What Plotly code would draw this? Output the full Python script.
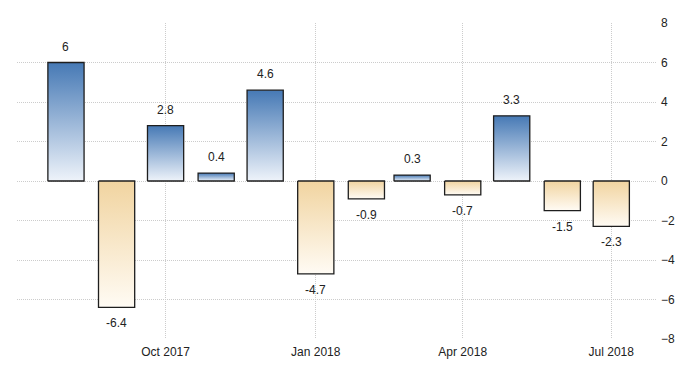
import pandas as pd
import plotly.graph_objects as go

months = ["2017-08-01", "2017-09-01", "2017-10-01", "2017-11-01", "2017-12-01", "2018-01-01",
          "2018-02-01", "2018-03-01", "2018-04-01", "2018-05-01", "2018-06-01", "2018-07-01"]
values = [6, -6.4, 2.8, 0.4, 4.6, -4.7, -0.9, 0.3, -0.7, 3.3, -1.5, -2.3]
labels = ["6", "-6.4", "2.8", "0.4", "4.6", "-4.7", "-0.9", "0.3", "-0.7", "3.3", "-1.5", "-2.3"]
tick_dates = ["2017-10-01", "2018-01-01", "2018-04-01", "2018-07-01"]
tick_text = ["Oct 2017", "Jan 2018", "Apr 2018", "Jul 2018"]
y_ticks = [-8, -6, -4, -2, 0, 2, 4, 6, 8]

FONT = "Liberation Sans Narrow, Arial Narrow, Liberation Sans, Arial, sans-serif"
half = pd.Timedelta(hours=266)  # half bar width

fig = go.Figure()
for m, v in zip(months, values):
    d = pd.Timestamp(m)
    xs = [d - half, d - half, d + half, d + half, d - half]
    ys = [0, v, v, 0, 0]
    if v >= 0:
        grad = dict(type="vertical", start=0, stop=v,
                    colorscale=[[0, "#eef3fa"], [1, "#4679b5"]])
    else:
        grad = dict(type="vertical", start=v, stop=0,
                    colorscale=[[0, "#fffbf4"], [1, "#f1d4a0"]])
    fig.add_trace(go.Scatter(x=xs, y=ys, mode="lines", fill="toself",
                             fillgradient=grad,
                             line=dict(color="#1e1e1e", width=1.3),
                             hoverinfo="skip", showlegend=False))

for m, v, t in zip(months, values, labels):
    fig.add_annotation(x=m, y=v, text=t, showarrow=False,
                       yshift=16 if v >= 0 else -16,
                       font=dict(family=FONT, size=12, color="#222"))

fig.update_layout(
    width=684, height=359,
    margin=dict(l=9, r=35, t=15, b=28),
    paper_bgcolor="white", plot_bgcolor="white",
    showlegend=False,
    font=dict(family=FONT, size=12, color="#222"),
)
fig.update_xaxes(
    type="date", range=["2017-07-02", "2018-07-29"],
    tickvals=tick_dates, ticktext=tick_text,
    showgrid=True, gridcolor="#cccccc", griddash="1px,1px", gridwidth=1,
    showline=False, zeroline=False, ticks="", ticklabelstandoff=4,
    automargin=False,
)
fig.update_yaxes(
    range=[-8, 8], side="right", tickvals=y_ticks,
    showgrid=True, gridcolor="#cccccc", griddash="1px,1px", gridwidth=1,
    showline=False, zeroline=False, ticks="", ticklabelstandoff=3,
    automargin=False,
)
fig.write_html("out.html")
